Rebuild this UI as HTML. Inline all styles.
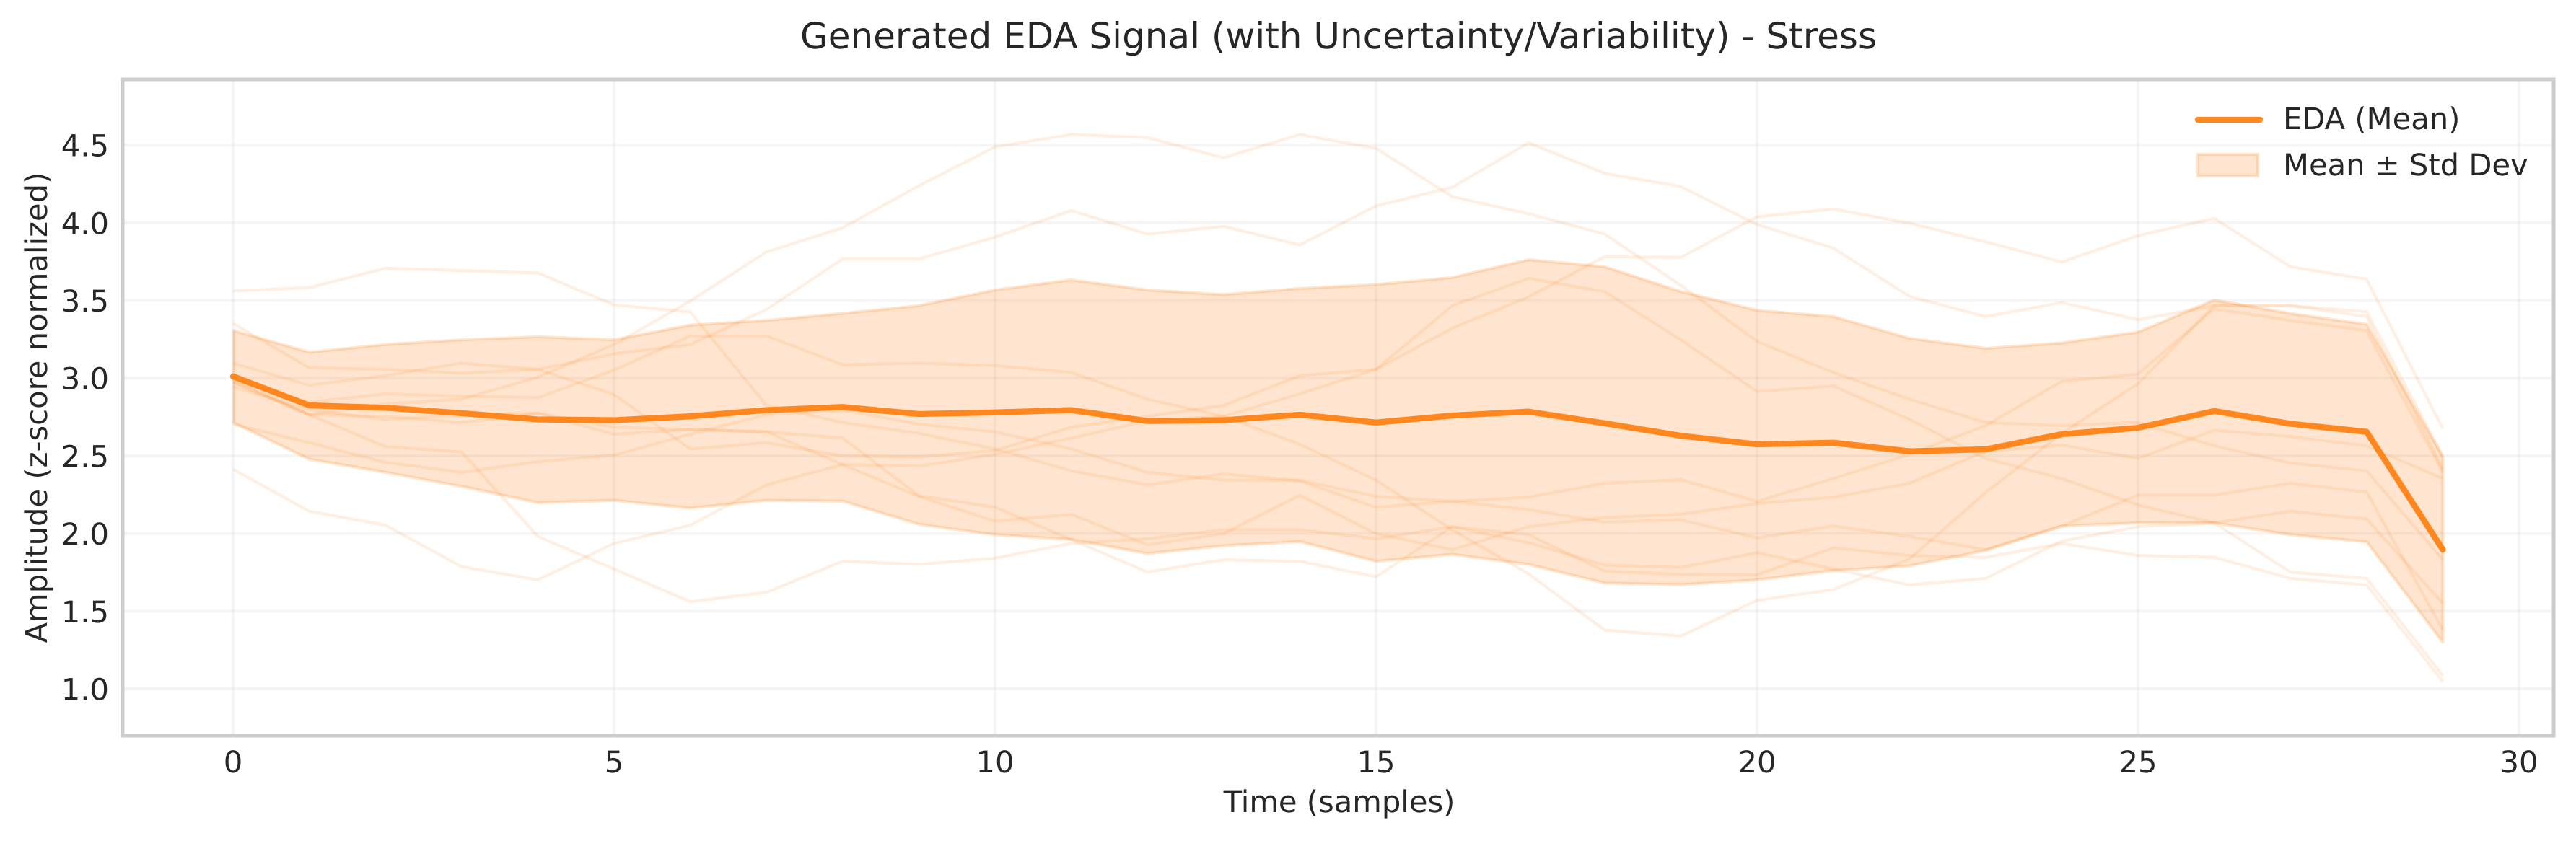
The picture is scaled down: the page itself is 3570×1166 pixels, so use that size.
<!DOCTYPE html>
<html lang="en">
<head>
<meta charset="utf-8">
<title>Generated EDA Signal - Stress</title>
<style>
html,body{margin:0;padding:0;background:#fff;}
body{width:3570px;height:1166px;overflow:hidden;}
svg{display:block;}
text{font-family:"DejaVu Sans","Liberation Sans",sans-serif;fill:#262626;text-rendering:geometricPrecision;}
</style>
</head>
<body>
<svg id="chart" xmlns="http://www.w3.org/2000/svg" width="3570" height="1166" viewBox="0 0 3570 1166">
  <rect x="0" y="0" width="3570" height="1166" fill="#ffffff"/>
  <g id="grid"></g>
  <g id="samples"></g>
  <path id="band" fill="#ff7f0e" fill-opacity="0.2" stroke="#ff7f0e" stroke-opacity="0.2" stroke-width="4.17" stroke-linejoin="round"/>
  <path id="meanLine" fill="none" stroke="#ff7f0e" stroke-opacity="0.92" stroke-width="8.33" stroke-linejoin="round" stroke-linecap="round"/>
  <rect x="170" y="110" width="3369" height="910" fill="none" stroke="#cccccc" stroke-width="5"/>
  <g id="xTicks"></g>
  <g id="yTicks"></g>
  <text x="1855" y="67" font-size="50" text-anchor="middle">Generated EDA Signal (with Uncertainty/Variability) - Stress</text>
  <text x="1856" y="1126" font-size="41.67" text-anchor="middle">Time (samples)</text>
  <text transform="translate(65,565) rotate(-90)" font-size="41.67" text-anchor="middle">Amplitude (z-score normalized)</text>
  <g>
    <line x1="3046" y1="166" x2="3132" y2="166" stroke="#ff7f0e" stroke-opacity="0.92" stroke-width="8.33" stroke-linecap="round"/>
    <text x="3164" y="179" font-size="41.67">EDA (Mean)</text>
    <rect x="3046" y="214" width="83" height="30" fill="#ff7f0e" fill-opacity="0.2" stroke="#ff7f0e" stroke-opacity="0.2" stroke-width="4.17"/>
    <text x="3164" y="243" font-size="41.67">Mean ± Std Dev</text>
  </g>
</svg>
<script>
const sampleIndex = [0,1,2,3,4,5,6,7,8,9,10,11,12,13,14,15,16,17,18,19,20,21,22,23,24,25,26,27,28,29];
const xTickLabels = [0,5,10,15,20,25,30];
const yTickLabels = ["1.0","1.5","2.0","2.5","3.0","3.5","4.0","4.5"];
const meanValues = [3.011,2.824,2.809,2.774,2.734,2.729,2.754,2.794,2.814,2.769,2.779,2.794,2.724,2.729,2.764,2.714,2.759,2.784,2.709,2.629,2.574,2.584,2.529,2.542,2.639,2.68,2.788,2.706,2.654,1.896];
const upperValues = [3.306,3.166,3.216,3.246,3.266,3.246,3.341,3.371,3.416,3.466,3.567,3.632,3.567,3.537,3.577,3.602,3.647,3.762,3.717,3.557,3.436,3.396,3.256,3.191,3.226,3.296,3.502,3.416,3.346,2.494];
const lowerValues = [2.714,2.478,2.393,2.303,2.198,2.213,2.163,2.213,2.208,2.059,1.992,1.961,1.871,1.921,1.948,1.821,1.866,1.801,1.681,1.671,1.701,1.761,1.791,1.891,2.048,2.068,2.068,1.992,1.946,1.30];
const traceA = [3.352,3.066,3.056,3.031,3.056,3.156,3.216,3.441,3.767,3.767,3.907,4.078,3.927,3.977,3.857,4.108,4.228,4.514,4.318,4.233,3.988,3.837,3.526,3.396,3.486,3.376,3.466,3.466,3.426,2.494];
const traceB = [2.413,2.143,2.053,1.786,1.701,1.936,2.053,2.313,2.443,2.433,2.509,2.614,2.724,2.754,2.899,3.056,3.321,3.522,3.782,3.777,4.038,4.088,3.997,3.877,3.747,3.917,4.028,3.717,3.637,2.674];
const traceC = [2.974,2.764,2.834,2.864,3.006,3.216,3.496,3.812,3.967,4.238,4.488,4.568,4.548,4.418,4.568,4.478,4.168,4.058,3.927,3.597,3.236,3.036,2.864,2.714,2.694,2.714,2.564,2.453,2.403,1.831];
const traceD = [3.561,3.582,3.707,3.692,3.677,3.471,3.426,2.824,2.714,2.644,2.544,2.403,2.313,2.383,2.338,2.168,2.207,2.233,2.323,2.346,2.207,2.353,2.509,2.694,2.979,3.026,3.446,3.371,3.306,2.393];
const traceE = [2.994,2.844,2.899,2.884,2.874,3.051,3.271,3.271,3.086,3.096,3.081,3.036,2.864,2.754,2.574,2.343,2.023,1.741,1.378,1.34,1.569,1.639,1.835,2.263,2.644,2.964,3.466,3.466,3.396,2.413];
const traceF = [3.096,2.954,3.016,3.096,3.056,2.894,2.544,2.584,2.499,2.493,2.534,2.684,2.754,2.824,3.016,3.056,3.466,3.642,3.557,3.246,2.914,2.949,2.734,2.483,2.353,2.183,2.068,2.143,2.093,1.551];
const traceG = [2.944,2.794,2.734,2.764,2.774,2.684,2.669,2.654,2.443,2.238,2.079,2.123,1.927,1.999,2.246,1.999,1.896,2.043,2.103,2.123,2.193,2.233,2.323,2.529,2.569,2.483,2.664,2.624,2.564,2.353];
const traceH = [2.994,2.764,2.754,2.714,2.774,2.639,2.669,2.654,2.614,2.243,2.169,1.961,1.751,1.831,1.821,1.721,2.043,1.992,1.757,1.737,1.734,1.907,1.858,1.846,1.936,1.858,1.847,1.711,1.668,1.047];
const traceI = [2.974,2.764,2.559,2.524,1.981,1.771,1.561,1.621,1.821,1.801,1.841,1.936,1.966,2.023,2.023,1.966,2.043,1.941,1.796,1.781,1.876,1.771,1.669,1.711,1.951,2.043,2.068,1.751,1.711,1.085];
const traceJ = [2.704,2.584,2.458,2.393,2.463,2.504,2.639,2.764,2.794,2.704,2.654,2.544,2.393,2.343,2.343,2.238,2.207,2.153,2.073,2.088,1.971,2.048,1.981,1.896,2.048,2.246,2.246,2.323,2.266,1.38];
const traces = [traceA,traceB,traceC,traceD,traceE,traceF,traceG,traceH,traceI,traceJ];

const NS = "http://www.w3.org/2000/svg";
const plotLeft = 170, plotRight = 3539, plotTop = 110, plotBottom = 1020;
const xScale = v => 323 + v * 105.6;
const yScale = v => 955 - (v - 1) * 215.4;
function linePath(xs, ys) {
  return xs.map((x, i) => (i ? "L" : "M") + xScale(x).toFixed(1) + " " + yScale(ys[i]).toFixed(1)).join("");
}
const grid = document.getElementById("grid");
const xTicks = document.getElementById("xTicks");
const yTicks = document.getElementById("yTicks");
function make(tag, attrs, parent) {
  const el = document.createElementNS(NS, tag);
  for (const k in attrs) el.setAttribute(k, attrs[k]);
  parent.appendChild(el);
  return el;
}
xTickLabels.forEach(t => {
  const x = xScale(t);
  const g = make("line", {x1:x, x2:x, y1:plotTop, y2:plotBottom, stroke:"#cccccc", "stroke-opacity":0.2, "stroke-width":4.17}, grid);
  
  
  const l = make("text", {x:x, y:1071, "font-size":41.67, "text-anchor":"middle"}, xTicks);
  l.textContent = t;
  
  
});
yTickLabels.forEach(t => {
  const y = yScale(parseFloat(t));
  const g = make("line", {x1:plotLeft, x2:plotRight, y1:y, y2:y, stroke:"#cccccc", "stroke-opacity":0.2, "stroke-width":4.17}, grid);
  
  
  const l = make("text", {x:151, y:y + 15.5, "font-size":41.67, "text-anchor":"end"}, yTicks);
  l.textContent = t;
  
  
});
const samples = document.getElementById("samples");
traces.forEach(tr => {
  const p = make("path", {d:linePath(sampleIndex, tr), fill:"none", stroke:"#ff7f0e", "stroke-opacity":0.12, "stroke-width":4.17, "stroke-linejoin":"round", "stroke-linecap":"butt"}, samples);
  
  
});
const revIdx = sampleIndex.slice().reverse();
const revLow = lowerValues.slice().reverse();
document.getElementById("band").setAttribute("d", linePath(sampleIndex, upperValues) + linePath(revIdx, revLow).replace("M", "L") + "Z");
document.getElementById("meanLine").setAttribute("d", linePath(sampleIndex, meanValues));
</script>
</body>
</html>
